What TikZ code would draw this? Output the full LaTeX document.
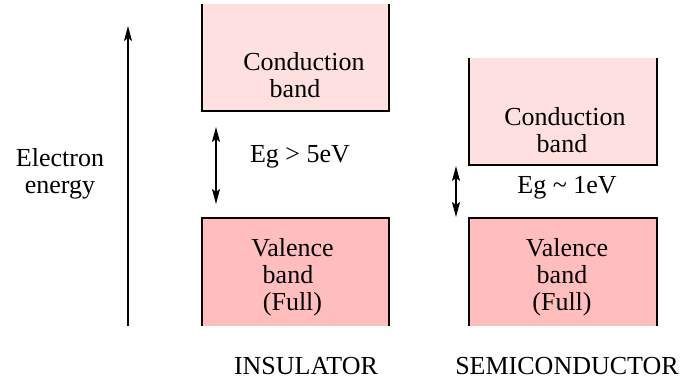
\documentclass[tikz,border=0pt]{standalone}
\usepackage{fontspec}
\setmainfont{Liberation Serif}
\usetikzlibrary{arrows.meta}
\definecolor{cbandc}{HTML}{FFE0E0}
\definecolor{vbandc}{HTML}{FFBDBD}
\begin{document}
\begin{tikzpicture}[x=1pt,y=-1pt,
  bandbox/.style={inner sep=0pt, outer sep=0pt, draw=none},
  cband/.style={bandbox, fill=cbandc},
  vband/.style={bandbox, fill=vbandc},
  edge/.style={line width=1.2pt, black},
  lbl/.style={font=\fontsize{26}{27}\selectfont, align=center, inner sep=0pt},
  tipx/.tip={Stealth[length=15pt,width=8pt,inset=3pt]},
  arr/.style={line width=1.1pt, -tipx},
  darr/.style={line width=1.1pt, tipx-tipx}]
\useasboundingbox (0,0) rectangle (688,385);
% insulator bands
\node[cband, minimum width=187pt, minimum height=107pt] (ic) at (295.5,57.5) {};
\node[vband, minimum width=187pt, minimum height=108pt] (iv) at (295.5,272) {};
% semiconductor bands
\node[cband, minimum width=188pt, minimum height=107pt] (sc) at (563,111.5) {};
\node[vband, minimum width=188pt, minimum height=108pt] (sv) at (563,272) {};
% open-sided borders
\draw[edge] (ic.north west) -- (ic.south west) -- (ic.south east) -- (ic.north east);
\draw[edge] (iv.south west) -- (iv.north west) -- (iv.north east) -- (iv.south east);
\draw[edge] (sc.north west) -- (sc.south west) -- (sc.south east) -- (sc.north east);
\draw[edge] (sv.south west) -- (sv.north west) -- (sv.north east) -- (sv.south east);
% texts
\node[lbl] (ict) at (304,75) {Conduction\\\hspace*{-18pt}band};
\node[lbl] (ivt) at (292.5,277) {Valence\\\hspace*{-9pt}band\\(Full)};
\node[lbl] (sct) at (565,130) {Conduction\\\hspace*{-6pt}band};
\node[lbl] (svt) at (567,277) {Valence\\\hspace*{-10pt}band\\\hspace*{-10pt}(Full)};
\node[lbl] (ieg) at (300,157) {Eg > 5eV};
\node[lbl] (seg) at (567,188) {Eg {\char"7E} 1eV};
\node[lbl] (ee) at (60,174) {Electron\\energy};
\node[lbl] (ins) at (306,366) {INSULATOR};
\node[lbl] (semi) at (567,366) {SEMICONDUCTOR};
% arrows
\coordinate (e0) at (128,326);
\coordinate (e1) at (128,26);
\draw[arr] (e0) -- (e1);
\coordinate (ig0) at (216,127);
\coordinate (ig1) at (216,204);
\draw[darr] (ig0) -- (ig1);
\coordinate (sg0) at (456,166);
\coordinate (sg1) at (456,217);
\draw[darr] (sg0) -- (sg1);
\end{tikzpicture}
\end{document}
